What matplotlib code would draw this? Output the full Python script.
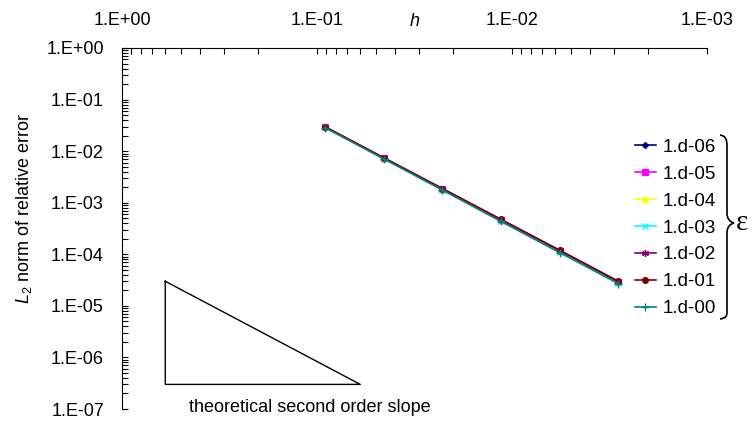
import numpy as np
import matplotlib
matplotlib.use("Agg")
import matplotlib.pyplot as plt
from matplotlib.path import Path
from matplotlib.patches import PathPatch
from matplotlib.ticker import FuncFormatter, FixedLocator, NullFormatter

plt.rcParams['font.family'] = ['Liberation Sans', 'DejaVu Sans']
plt.rcParams['mathtext.fontset'] = 'custom'
plt.rcParams['mathtext.rm'] = 'Liberation Sans'
plt.rcParams['mathtext.it'] = 'Liberation Sans:italic'

# mesh sizes
h = [0.091, 0.0455, 0.02275, 0.0114, 0.0057, 0.00285]

# L2 relative error for each epsilon
err_06 = [2.95e-2, 7.4e-3, 1.86e-3, 4.7e-4, 1.18e-4, 2.95e-5]
err_05 = [2.96e-2, 7.4e-3, 1.86e-3, 4.7e-4, 1.18e-4, 2.96e-5]
err_04 = [2.95e-2, 7.4e-3, 1.85e-3, 4.65e-4, 1.17e-4, 2.93e-5]
err_03 = [2.9e-2, 7.2e-3, 1.8e-3, 4.5e-4, 1.12e-4, 2.8e-5]
err_02 = [2.95e-2, 7.4e-3, 1.86e-3, 4.7e-4, 1.18e-4, 2.95e-5]
err_01 = [2.97e-2, 7.45e-3, 1.88e-3, 4.75e-4, 1.2e-4, 3.0e-5]
err_00 = [2.85e-2, 7.1e-3, 1.76e-3, 4.35e-4, 1.08e-4, 2.7e-5]

labels = ['1.d-06', '1.d-05', '1.d-04', '1.d-03', '1.d-02', '1.d-01', '1.d-00']

# axis decades
x_decades = [1, 1e-1, 1e-2, 1e-3]
y_decades = [1, 1e-1, 1e-2, 1e-3, 1e-4, 1e-5, 1e-6, 1e-7]

# theoretical slope triangle (h, error)
tri_h = [0.6, 0.6, 0.06, 0.6]
tri_err = [3e-5, 3e-7, 3e-7, 3e-5]

all_err = [err_06, err_05, err_04, err_03, err_02, err_01, err_00]
colors = ['#000080', '#FF00FF', '#FFFF00', '#00FFFF', '#800080', '#800000', '#008080']
markers = ['D', 's', '^', 'x', (6, 2, 0), 'o', '+']
msizes = [3, 4, 4.5, 5, 5, 4, 6]

W, H = 754, 422
fig = plt.figure(figsize=(W / 100, H / 100), dpi=100)
ax = fig.add_axes([122 / W, 1 - 409 / H, (707 - 122) / W, (409 - 48) / H])

for i in range(len(all_err)):
    ax.plot(h, all_err[i], color=colors[i], marker=markers[i], markersize=msizes[i],
            markeredgewidth=1, linewidth=1.2, label=labels[i])

ax.plot(tri_h, tri_err, color='black', linewidth=1)

ax.set_xscale('log')
ax.set_yscale('log')
ax.set_xlim(1, 1e-3)
ax.set_ylim(1e-7, 1)

# minor ticks 2..9 inside every decade
x_minor = [d * k for d in x_decades[1:] for k in range(2, 10)]
y_minor = [d * k for d in y_decades[1:] for k in range(2, 10)]

fmt = FuncFormatter(lambda v, p: "1.E%+03d" % int(round(np.log10(v))))
ax.xaxis.tick_top()
ax.xaxis.set_major_locator(FixedLocator(x_decades))
ax.yaxis.set_major_locator(FixedLocator(y_decades))
ax.xaxis.set_minor_locator(FixedLocator(x_minor))
ax.yaxis.set_minor_locator(FixedLocator(y_minor))
ax.xaxis.set_major_formatter(fmt)
ax.yaxis.set_major_formatter(fmt)
ax.xaxis.set_minor_formatter(NullFormatter())
ax.yaxis.set_minor_formatter(NullFormatter())
ax.tick_params(which='both', direction='in', length=4, width=0.8, labelsize=13)
ax.tick_params(axis='x', which='major', pad=14)
ax.tick_params(axis='y', which='major', pad=13)
ax.spines['bottom'].set_visible(False)
ax.spines['right'].set_visible(False)

# axis titles
fig.text(415 / W, 1 - 21 / H, 'h', fontsize=13, style='italic', ha='center', va='center')
fig.text(24 / W, 1 - 208 / H, '$L_{2}$ norm of relative error', fontsize=13,
         rotation=90, ha='center', va='center')
fig.text(189 / W, 1 - 407 / H, 'theoretical second order slope', fontsize=13,
         ha='left', va='center')

ax.legend(loc='center left', bbox_to_anchor=(635 / W, 1 - 228 / H),
          bbox_transform=fig.transFigure, frameon=False, fontsize=13.5,
          handlelength=1.1, handletextpad=0.4, borderpad=0, borderaxespad=0,
          labelspacing=0.52)

# brace + epsilon
bx = [(720, 135), (726, 136), (727, 140), (727, 146),
      (727, 205), (727, 205), (727, 213), (727, 219), (730, 222), (734, 223),
      (730, 224), (727, 227), (727, 233),
      (727, 310), (727, 310), (727, 312), (727, 316), (726, 318), (720, 319)]
codes = [Path.MOVETO] + [Path.CURVE4] * (len(bx) - 1)
verts = [(x / W, 1 - y / H) for x, y in bx]
fig.patches.append(PathPatch(Path(verts, codes), transform=fig.transFigure,
                             facecolor='none', edgecolor='black', linewidth=1.2))
fig.text(742 / W, 1 - 223 / H, 'ε', fontsize=21, family=['Liberation Serif', 'DejaVu Serif'],
         ha='center', va='center')

plt.savefig('out.png', dpi=100)
